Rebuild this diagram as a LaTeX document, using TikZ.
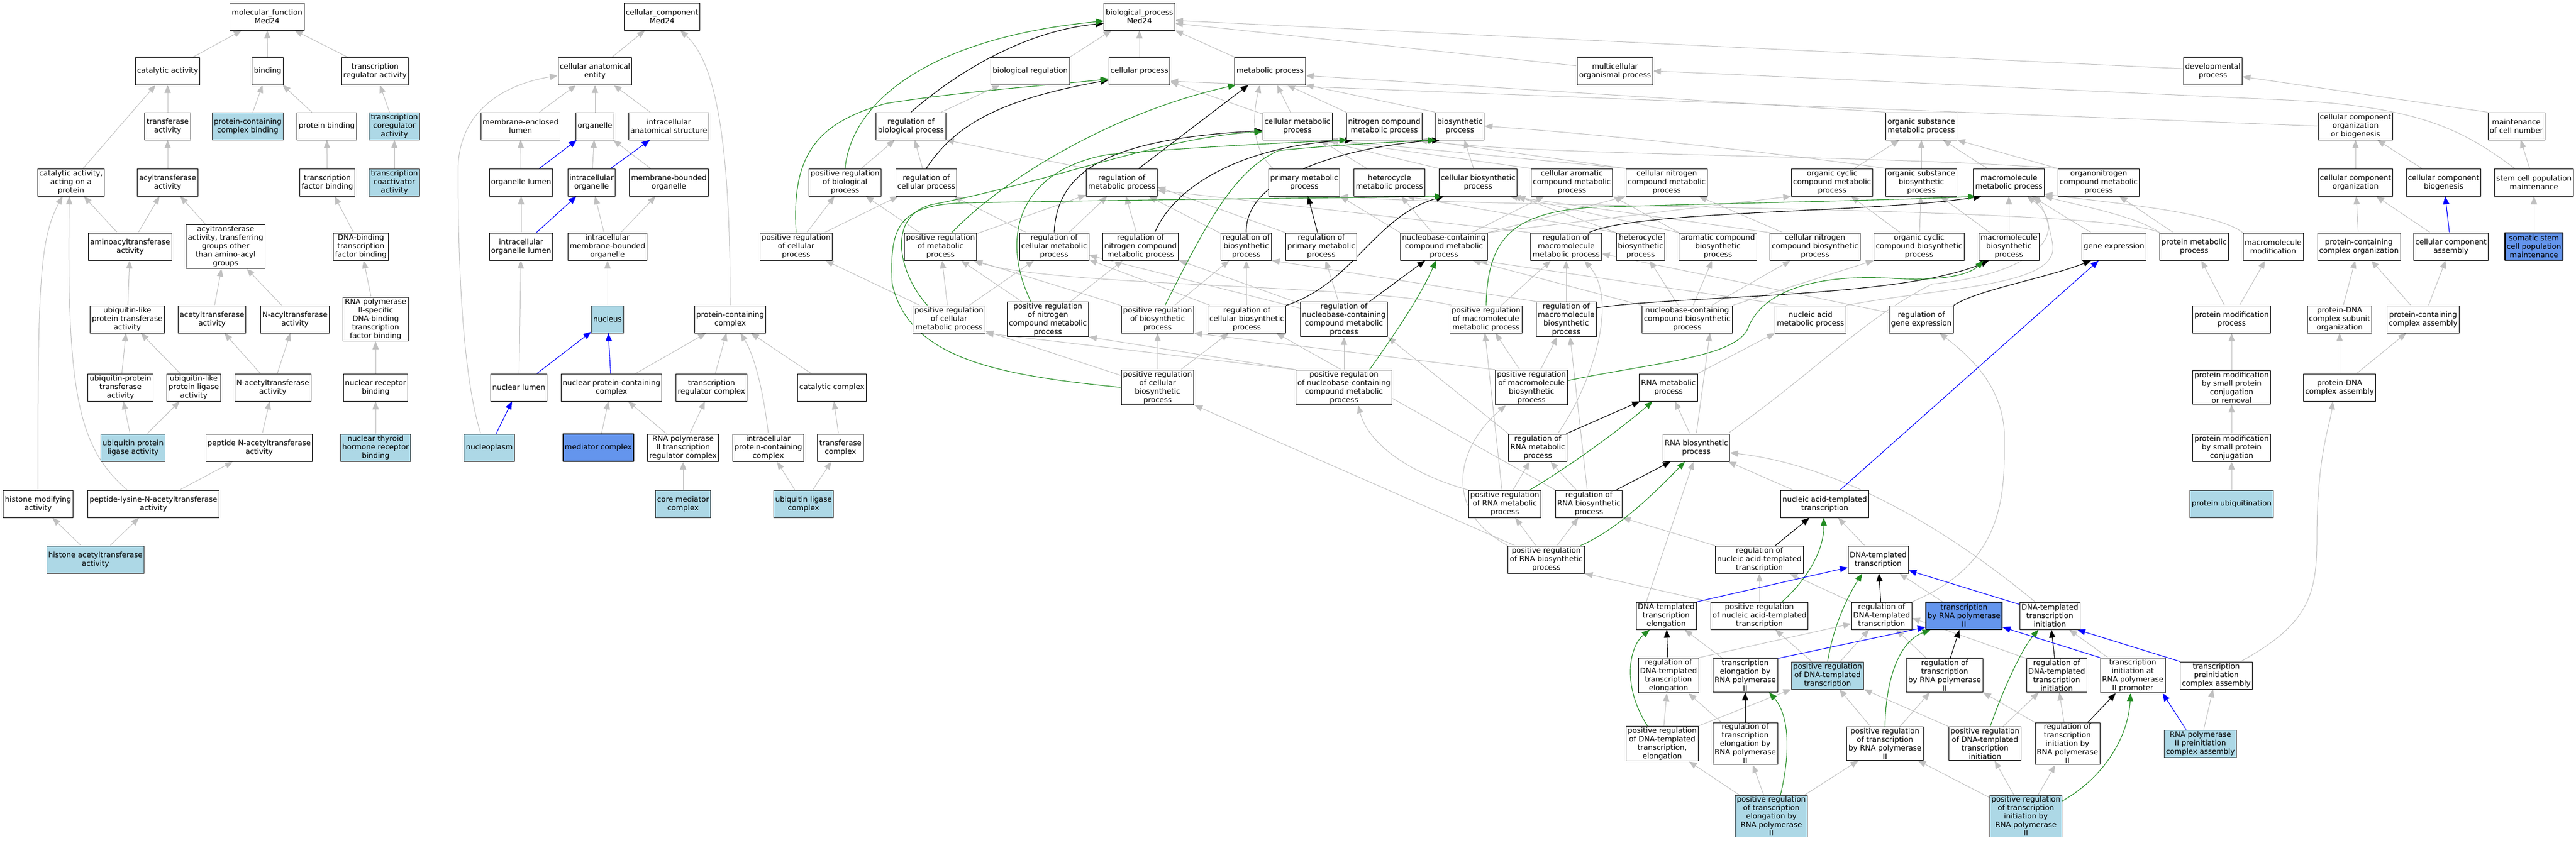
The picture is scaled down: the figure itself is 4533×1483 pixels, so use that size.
\documentclass[tikz,border=0pt]{standalone}
\usepackage{fontspec}
\setmainfont{DejaVu Sans}
\usepackage{tikz}
\usetikzlibrary{arrows.meta}
\usetikzlibrary{backgrounds}
\definecolor{cqcqcq}{rgb}{0.7529,0.7529,0.7529}
\definecolor{ssybss}{rgb}{0.1333,0.5451,0.1333}
\definecolor{qqqqff}{rgb}{0.,0.,1.}
\definecolor{addyew}{rgb}{0.6784,0.8471,0.902}
\definecolor{wuzxed}{rgb}{0.3922,0.5843,0.9294}
\definecolor{tttttt}{rgb}{0.2,0.2,0.2}
\tikzstyle{every node}=[font=\fontsize{13}{15}\selectfont]
\tikzstyle{termbox}=[draw=black,line width=1pt,fill=white,align=center,inner xsep=3pt,inner ysep=2pt,minimum height=48pt]
\tikzstyle{hitbox}=[termbox,draw=tttttt,fill=addyew]
\tikzstyle{seedbox}=[termbox,line width=1.5pt,fill=wuzxed]
\tikzstyle{isaline}=[->,color=cqcqcq,line width=1pt]
\tikzstyle{regline}=[->,color=black,line width=1.1pt]
\tikzstyle{posline}=[->,color=ssybss,line width=1.1pt]
\tikzstyle{partline}=[->,color=qqqqff,line width=1.1pt]
\begin{document}
\begin{tikzpicture}[line cap=round,line join=round,>={Triangle[length=14pt,width=11pt]},x=1pt,y=-1pt]
    \useasboundingbox (0,0) rectangle (4533,1483);
    \node[termbox] (mf) at (470,29) {molecular\_function\\Med24};
    \node[termbox] (catal) at (295,125) {catalytic activity};
    \node[termbox] (bind) at (471,125) {binding};
    \node[termbox] (tra) at (660,125) {transcription\\regulator activity};
    \node[termbox] (transf) at (295,222) {transferase\\activity};
    \node[hitbox] (pcb) at (436,222) {protein-containing\\complex binding};
    \node[termbox] (protb) at (575,222) {protein binding};
    \node[hitbox] (tcoreg) at (694,222) {transcription\\coregulator\\activity};
    \node[termbox] (catprot) at (125,321) {catalytic activity,\\acting on a\\protein};
    \node[termbox] (acyl) at (295,321) {acyltransferase\\activity};
    \node[termbox] (tfb) at (576,321) {transcription\\factor binding};
    \node[hitbox] (tcoact) at (694,321) {transcription\\coactivator\\activity};
    \node[termbox] (aminoacyl) at (229,434) {aminoacyltransferase\\activity};
    \node[termbox] (acylother) at (397,434) {acyltransferase\\activity, transferring\\groups other\\than amino-acyl\\groups};
    \node[termbox] (dnatfb) at (635,434) {DNA-binding\\transcription\\factor binding};
    \node[termbox] (ubltrans) at (224,562) {ubiquitin-like\\protein transferase\\activity};
    \node[termbox] (acetyl) at (373,562) {acetyltransferase\\activity};
    \node[termbox] (nacyl) at (519,562) {N-acyltransferase\\activity};
    \node[termbox] (rnaptfb) at (661,562) {RNA polymerase\\II-specific\\DNA-binding\\transcription\\factor binding};
    \node[termbox] (ubprottrans) at (212,682) {ubiquitin-protein\\transferase\\activity};
    \node[termbox] (ublig) at (341,682) {ubiquitin-like\\protein ligase\\activity};
    \node[termbox] (nacetyl) at (480,682) {N-acetyltransferase\\activity};
    \node[termbox] (nrb) at (661,682) {nuclear receptor\\binding};
    \node[hitbox] (ubplig) at (234,788) {ubiquitin protein\\ligase activity};
    \node[termbox] (pepnacetyl) at (456,788) {peptide N-acetyltransferase\\activity};
    \node[hitbox] (nthrb) at (661,788) {nuclear thyroid\\hormone receptor\\binding};
    \node[termbox] (histmod) at (67,887) {histone modifying\\activity};
    \node[termbox] (peplys) at (270,887) {peptide-lysine-N-acetyltransferase\\activity};
    \node[hitbox] (hat) at (168,985) {histone acetyltransferase\\activity};
    \node[termbox] (cc) at (1165,29) {cellular\_component\\Med24};
    \node[termbox] (cae) at (1047,125) {cellular anatomical\\entity};
    \node[termbox] (mel) at (916,222) {membrane-enclosed\\lumen};
    \node[termbox] (org) at (1047,222) {organelle};
    \node[termbox] (ias) at (1177,222) {intracellular\\anatomical structure};
    \node[termbox] (orglum) at (917,321) {organelle lumen};
    \node[termbox] (intorg) at (1041,321) {intracellular\\organelle};
    \node[termbox] (mbo) at (1177,321) {membrane-bounded\\organelle};
    \node[termbox] (iol) at (917,434) {intracellular\\organelle lumen};
    \node[termbox] (imbo) at (1069,434) {intracellular\\membrane-bounded\\organelle};
    \node[hitbox] (nucleus) at (1069,562) {nucleus};
    \node[termbox] (pcc) at (1285,562) {protein-containing\\complex};
    \node[termbox] (nuclum) at (913,682) {nuclear lumen};
    \node[termbox] (npcc) at (1076,682) {nuclear protein-containing\\complex};
    \node[termbox] (trc) at (1252,682) {transcription\\regulator complex};
    \node[termbox] (catcx) at (1464,682) {catalytic complex};
    \node[hitbox] (nucpl) at (861,788) {nucleoplasm};
    \node[seedbox] (medcx) at (1053,788) {mediator complex};
    \node[termbox] (rnaptrc) at (1202,788) {RNA polymerase\\II transcription\\regulator complex};
    \node[termbox] (ipcc) at (1352,788) {intracellular\\protein-containing\\complex};
    \node[termbox] (trfcx) at (1479,788) {transferase\\complex};
    \node[hitbox] (coremed) at (1202,887) {core mediator\\complex};
    \node[hitbox] (ubligcx) at (1414,887) {ubiquitin ligase\\complex};
    \node[termbox] (bp) at (2005,29) {biological\_process\\Med24};
    \node[termbox] (bioreg) at (1813,125) {biological regulation};
    \node[termbox] (cellp) at (2005,125) {cellular process};
    \node[termbox] (metp) at (2235,125) {metabolic process};
    \node[termbox] (multi) at (2842,125) {multicellular\\organismal process};
    \node[termbox] (devp) at (3894,125) {developmental\\process};
    \node[termbox] (rbp) at (1603,222) {regulation of\\biological process};
    \node[termbox] (cmp) at (2283,222) {cellular metabolic\\process};
    \node[termbox] (ncmp) at (2436,222) {nitrogen compound\\metabolic process};
    \node[termbox] (bsp) at (2569,222) {biosynthetic\\process};
    \node[termbox] (osmp) at (3381,222) {organic substance\\metabolic process};
    \node[termbox] (ccob) at (4145,222) {cellular component\\organization\\or biogenesis};
    \node[termbox] (mcn) at (4428,222) {maintenance\\of cell number};
    \node[termbox] (prbp) at (1487,321) {positive regulation\\of biological\\process};
    \node[termbox] (rcp) at (1630,321) {regulation of\\cellular process};
    \node[termbox] (rmp) at (1974,321) {regulation of\\metabolic process};
    \node[termbox] (pmp) at (2295,321) {primary metabolic\\process};
    \node[termbox] (hmp) at (2445,321) {heterocycle\\metabolic process};
    \node[termbox] (cbp) at (2601,321) {cellular biosynthetic\\process};
    \node[termbox] (camp) at (2766,321) {cellular aromatic\\compound metabolic\\process};
    \node[termbox] (cncmp) at (2933,321) {cellular nitrogen\\compound metabolic\\process};
    \node[termbox] (occmp) at (3224,321) {organic cyclic\\compound metabolic\\process};
    \node[termbox] (osbp) at (3381,321) {organic substance\\biosynthetic\\process};
    \node[termbox] (mmp) at (3535,321) {macromolecule\\metabolic process};
    \node[termbox] (oncmp) at (3693,321) {organonitrogen\\compound metabolic\\process};
    \node[termbox] (cco) at (4145,321) {cellular component\\organization};
    \node[termbox] (ccb) at (4300,321) {cellular component\\biogenesis};
    \node[termbox] (scpm) at (4459,321) {stem cell population\\maintenance};
    \node[termbox] (prcp) at (1401,434) {positive regulation\\of cellular\\process};
    \node[termbox] (prmp) at (1655,434) {positive regulation\\of metabolic\\process};
    \node[termbox] (rcmp) at (1855,434) {regulation of\\cellular metabolic\\process};
    \node[termbox] (rncmp) at (2007,434) {regulation of\\nitrogen compound\\metabolic process};
    \node[termbox] (rbsp) at (2193,434) {regulation of\\biosynthetic\\process};
    \node[termbox] (rpmp) at (2325,434) {regulation of\\primary metabolic\\process};
    \node[termbox] (nbmp) at (2541,434) {nucleobase-containing\\compound metabolic\\process};
    \node[termbox] (rmmp) at (2756,434) {regulation of\\macromolecule\\metabolic process};
    \node[termbox] (hbp) at (2887,434) {heterocycle\\biosynthetic\\process};
    \node[termbox] (acbp) at (3023,434) {aromatic compound\\biosynthetic\\process};
    \node[termbox] (cncbp) at (3194,434) {cellular nitrogen\\compound biosynthetic\\process};
    \node[termbox] (occbp) at (3377,434) {organic cyclic\\compound biosynthetic\\process};
    \node[termbox] (mbp) at (3535,434) {macromolecule\\biosynthetic\\process};
    \node[termbox] (gexp) at (3720,434) {gene expression};
    \node[termbox] (protmp) at (3861,434) {protein metabolic\\process};
    \node[termbox] (mmod) at (4000,434) {macromolecule\\modification};
    \node[termbox] (pcco) at (4151,434) {protein-containing\\complex organization};
    \node[termbox] (cca) at (4313,434) {cellular component\\assembly};
    \node[seedbox] (sscpm) at (4459,434) {somatic stem\\cell population\\maintenance};
    \node[termbox] (prcmp) at (1670,562) {positive regulation\\of cellular\\metabolic process};
    \node[termbox] (prncmp) at (1844,562) {positive regulation\\of nitrogen\\compound metabolic\\process};
    \node[termbox] (prbsp) at (2037,562) {positive regulation\\of biosynthetic\\process};
    \node[termbox] (rcbp) at (2194,562) {regulation of\\cellular biosynthetic\\process};
    \node[termbox] (rnbmp) at (2365,562) {regulation of\\nucleobase-containing\\compound metabolic\\process};
    \node[termbox] (prmmp) at (2615,562) {positive regulation\\of macromolecule\\metabolic process};
    \node[termbox] (rmbp) at (2756,562) {regulation of\\macromolecule\\biosynthetic\\process};
    \node[termbox] (nbbp) at (2969,562) {nucleobase-containing\\compound biosynthetic\\process};
    \node[termbox] (namp) at (3186,562) {nucleic acid\\metabolic process};
    \node[termbox] (rge) at (3381,562) {regulation of\\gene expression};
    \node[termbox] (pmod) at (3927,562) {protein modification\\process};
    \node[termbox] (pdnaso) at (4117,562) {protein-DNA\\complex subunit\\organization};
    \node[termbox] (pcca) at (4264,562) {protein-containing\\complex assembly};
    \node[termbox] (prcbp) at (2037,682) {positive regulation\\of cellular\\biosynthetic\\process};
    \node[termbox] (prnbmp) at (2365,682) {positive regulation\\of nucleobase-containing\\compound metabolic\\process};
    \node[termbox] (prmbp) at (2695,682) {positive regulation\\of macromolecule\\biosynthetic\\process};
    \node[termbox] (rnamp) at (2936,682) {RNA metabolic\\process};
    \node[termbox] (pmspcr) at (3927,682) {protein modification\\by small protein\\conjugation\\or removal};
    \node[termbox] (pdnaca) at (4117,682) {protein-DNA\\complex assembly};
    \node[termbox] (rrnamp) at (2706,788) {regulation of\\RNA metabolic\\process};
    \node[termbox] (rnabp) at (2985,788) {RNA biosynthetic\\process};
    \node[termbox] (pmspc) at (3927,788) {protein modification\\by small protein\\conjugation};
    \node[termbox] (prrnamp) at (2648,887) {positive regulation\\of RNA metabolic\\process};
    \node[termbox] (rrnabp) at (2796,887) {regulation of\\RNA biosynthetic\\process};
    \node[termbox] (natt) at (3211,887) {nucleic acid-templated\\transcription};
    \node[hitbox] (pubiq) at (3927,887) {protein ubiquitination};
    \node[termbox] (prrnabp) at (2721,985) {positive regulation\\of RNA biosynthetic\\process};
    \node[termbox] (rnatt) at (3096,985) {regulation of\\nucleic acid-templated\\transcription};
    \node[termbox] (dtt) at (3305,985) {DNA-templated\\transcription};
    \node[termbox] (dtte) at (2932,1084) {DNA-templated\\transcription\\elongation};
    \node[termbox] (prnatt) at (3096,1084) {positive regulation\\of nucleic acid-templated\\transcription};
    \node[termbox] (rdtt) at (3311,1084) {regulation of\\DNA-templated\\transcription};
    \node[seedbox] (trp2) at (3456,1084) {transcription\\by RNA polymerase\\II};
    \node[termbox] (dtti) at (3607,1084) {DNA-templated\\transcription\\initiation};
    \node[termbox] (rdtte) at (2936,1189) {regulation of\\DNA-templated\\transcription\\elongation};
    \node[termbox] (te2) at (3071,1189) {transcription\\elongation by\\RNA polymerase\\II};
    \node[hitbox] (prdtt) at (3216,1189) {positive regulation\\of DNA-templated\\transcription};
    \node[termbox] (rtrp2) at (3422,1189) {regulation of\\transcription\\by RNA polymerase\\II};
    \node[termbox] (rdtti) at (3619,1189) {regulation of\\DNA-templated\\transcription\\initiation};
    \node[termbox] (tiap) at (3753,1189) {transcription\\initiation at\\RNA polymerase\\II promoter};
    \node[termbox] (tpca) at (3900,1189) {transcription\\preinitiation\\complex assembly};
    \node[termbox] (prdtte) at (2925,1309) {positive regulation\\of DNA-templated\\transcription,\\elongation};
    \node[termbox] (rte2) at (3071,1309) {regulation of\\transcription\\elongation by\\RNA polymerase\\II};
    \node[termbox] (prtrp2) at (3317,1309) {positive regulation\\of transcription\\by RNA polymerase\\II};
    \node[termbox] (prdtti) at (3493,1309) {positive regulation\\of DNA-templated\\transcription\\initiation};
    \node[termbox] (rtip2) at (3638,1309) {regulation of\\transcription\\initiation by\\RNA polymerase\\II};
    \node[hitbox] (rppca) at (3872,1309) {RNA polymerase\\II preinitiation\\complex assembly};
    \node[hitbox] (prtep2) at (3117,1437) {positive regulation\\of transcription\\elongation by\\RNA polymerase\\II};
    \node[hitbox] (prtip2) at (3565,1437) {positive regulation\\of transcription\\initiation by\\RNA polymerase\\II};
    \begin{scope}[on background layer]
    \draw [isaline] (catal) -- (mf);
    \draw [isaline] (bind) -- (mf);
    \draw [isaline] (tra) -- (mf);
    \draw [isaline] (transf) -- (catal);
    \draw [isaline] (catprot) -- (catal);
    \draw [isaline] (pcb) -- (bind);
    \draw [isaline] (protb) -- (bind);
    \draw [isaline] (tcoreg) -- (tra);
    \draw [isaline] (acyl) -- (transf);
    \draw [isaline] (tfb) -- (protb);
    \draw [isaline] (tcoact) -- (tcoreg);
    \draw [isaline] (aminoacyl) -- (catprot);
    \draw [isaline] (aminoacyl) -- (acyl);
    \draw [isaline] (acylother) -- (acyl);
    \draw [isaline] (dnatfb) -- (tfb);
    \draw [isaline] (ubltrans) -- (aminoacyl);
    \draw [isaline] (acetyl) -- (acylother);
    \draw [isaline] (nacyl) -- (acylother);
    \draw [isaline] (rnaptfb) -- (dnatfb);
    \draw [isaline] (ubprottrans) -- (ubltrans);
    \draw [isaline] (ublig) -- (ubltrans);
    \draw [isaline] (nacetyl) -- (acetyl);
    \draw [isaline] (nacetyl) -- (nacyl);
    \draw [isaline] (nrb) -- (rnaptfb);
    \draw [isaline] (ubplig) -- (ubprottrans);
    \draw [isaline] (ubplig) -- (ublig);
    \draw [isaline] (pepnacetyl) -- (nacetyl);
    \draw [isaline] (nthrb) -- (nrb);
    \draw [isaline] (histmod.north) .. controls (66,500) and (70,420) .. ([xshift=-15pt]catprot.south);
    \draw [isaline] ([xshift=-46pt]peplys.north) .. controls (140,790) and (117,700) .. ([xshift=-3pt]catprot.south);
    \draw [isaline] (peplys) -- (pepnacetyl);
    \draw [isaline] (hat) -- (histmod);
    \draw [isaline] (hat) -- (peplys);
    \draw [isaline] (cae) -- (cc);
    \draw [isaline] (pcc.north) .. controls (1285,250) and (1260,110) .. ([xshift=32pt]cc.south);
    \draw [isaline] (mel) -- (cae);
    \draw [isaline] (org) -- (cae);
    \draw [isaline] (ias) -- (cae);
    \draw [isaline] (orglum) -- (mel);
    \draw [isaline] (intorg) -- (org);
    \draw [isaline] (mbo) -- (org);
    \draw [isaline] (iol) -- (orglum);
    \draw [isaline] (imbo) -- (intorg);
    \draw [isaline] (imbo) -- (mbo);
    \draw [isaline] (nucleus) -- (imbo);
    \draw [isaline] (nuclum) -- (iol);
    \draw [isaline] (npcc) -- (pcc);
    \draw [isaline] (trc) -- (pcc);
    \draw [isaline] (catcx) -- (pcc);
    \draw [isaline] (ipcc.north) .. controls (1345,700) and (1330,630) .. ([xshift=18pt]pcc.south);
    \draw [isaline] ([xshift=-15pt]nucpl.north) .. controls (810,650) and (806,420) .. (806,300) .. controls (806,200) and (880,150) .. ([yshift=-8pt]cae.west);
    \draw [isaline] (medcx) -- (npcc);
    \draw [isaline] (rnaptrc) -- (npcc);
    \draw [isaline] (rnaptrc) -- (trc);
    \draw [isaline] (trfcx) -- (catcx);
    \draw [isaline] (coremed) -- (rnaptrc);
    \draw [isaline] (ubligcx) -- (ipcc);
    \draw [isaline] (ubligcx) -- (trfcx);
    \draw [partline] (orglum) -- (org);
    \draw [partline] (intorg) -- (ias);
    \draw [partline] (iol) -- (intorg);
    \draw [partline] (nuclum) -- (nucleus);
    \draw [partline] (npcc) -- (nucleus);
    \draw [partline] (nucpl) -- (nuclum);
    \draw [isaline] (bioreg.north east) -- ([xshift=-49pt]bp.south);
    \draw [isaline] (cellp) -- (bp);
    \draw [isaline] (metp.north west) -- (bp.south east);
    \draw [isaline] ([yshift=9pt]multi.west) -- ([yshift=-12pt]bp.east);
    \draw [isaline] ([yshift=4pt]devp.west) -- ([yshift=-7pt]bp.east);
    \draw [isaline] (rbp) -- (bioreg);
    \draw [isaline] (cmp) -- (cellp);
    \draw [isaline] (cmp) -- (metp);
    \draw [isaline] (ncmp.north west) -- ([xshift=30pt]metp.south);
    \draw [isaline] (bsp.north west) -- (metp.south east);
    \draw [isaline] (osmp.north west) -- ([yshift=-8pt]metp.east);
    \draw [isaline] (ccob.west) -- ([yshift=-18pt]cellp.east);
    \draw [isaline] (mcn.north west) -- ([yshift=-10pt]devp.east);
    \draw [isaline] (prbp) -- (rbp);
    \draw [isaline] (rcp) -- (rbp);
    \draw [isaline] (rmp.north west) -- (rbp.south east);
    \draw [isaline] ([xshift=-55pt]pmp.north) .. controls (2200,260) and (2205,200) .. ([xshift=-18pt]metp.south);
    \draw [isaline] (hmp) -- (cmp);
    \draw [isaline] (cbp) -- (bsp);
    \draw [isaline] (cbp.north west) -- ([xshift=40pt]cmp.south);
    \draw [isaline] (camp.north west) -- ([xshift=52pt]cmp.south);
    \draw [isaline] (cncmp.north west) -- ([xshift=58pt]cmp.south);
    \draw [isaline] (cncmp.north west) -- (ncmp.south east);
    \draw [isaline] (occmp) -- (osmp);
    \draw [isaline] (osbp) -- (osmp);
    \draw [isaline] (osbp.north west) .. controls (3100,265) and (2800,235) .. (bsp.east);
    \draw [isaline] (mmp) -- (osmp);
    \draw [isaline] (oncmp.north west) -- (osmp.south east);
    \draw [isaline] (oncmp.north west) .. controls (3300,272) and (2700,275) .. ([xshift=-6pt]ncmp.south east);
    \draw [isaline] (cco) -- (ccob);
    \draw [isaline] (ccb) -- (ccob);
    \draw [isaline] (scpm) -- (mcn);
    \draw [isaline] ([xshift=-34pt]scpm.north) .. controls (4330,225) and (4250,185) .. (4000,175) .. controls (3500,152) and (3100,133) .. (multi.east);
    \draw [isaline] (prcp) -- (prbp);
    \draw [isaline] (prcp) -- (rcp);
    \draw [isaline] (prmp) -- (prbp);
    \draw [isaline] (prmp) -- (rmp);
    \draw [isaline] (rcmp) -- (rmp);
    \draw [isaline] (rcmp) -- (rcp);
    \draw [isaline] (rncmp) -- (rmp);
    \draw [isaline] (rbsp) -- (rmp);
    \draw [isaline] (rpmp.north west) -- ([yshift=-8pt]rmp.east);
    \draw [isaline] (nbmp) -- (hmp);
    \draw [isaline] (nbmp) -- (camp);
    \draw [isaline] (nbmp.north east) -- (cncmp.south west);
    \draw [isaline] (nbmp.north east) -- (occmp.south west);
    \draw [isaline] (nbmp.north west) -- (pmp.south east);
    \draw [isaline] (rmmp.north west) -- ([yshift=-14pt]rmp.east);
    \draw [isaline] (hbp.north west) -- ([xshift=30pt]hmp.south);
    \draw [isaline] (hbp.north west) -- (cbp.south east);
    \draw [isaline] (acbp.north west) -- ([xshift=-8pt]cbp.south east);
    \draw [isaline] (acbp.north west) -- (camp.south east);
    \draw [isaline] (cncbp) -- (cncmp);
    \draw [isaline] (cncbp.north west) -- ([xshift=-14pt]cbp.south east);
    \draw [isaline] (occbp) -- (occmp);
    \draw [isaline] (occbp) -- (osbp);
    \draw [isaline] (mbp) -- (mmp);
    \draw [isaline] (mbp) -- (osbp);
    \draw [isaline] (gexp) -- (mmp);
    \draw [isaline] (protmp.north west) .. controls (3760,380) and (3650,360) .. (mmp.south east);
    \draw [isaline] (protmp) -- (oncmp);
    \draw [isaline] (protmp.north west) .. controls (3700,362) and (2600,366) .. (pmp.south east);
    \draw [isaline] (mmod.north west) .. controls (3900,372) and (3700,356) .. ([yshift=4pt]mmp.south east);
    \draw [isaline] (pcco) -- (cco);
    \draw [isaline] (cca) -- (cco);
    \draw [isaline] (sscpm) -- (scpm);
    \draw [isaline] (prcmp) -- (prcp);
    \draw [isaline] (prcmp) -- (prmp);
    \draw [isaline] (prcmp) -- (rcmp);
    \draw [isaline] (prncmp) -- (prmp);
    \draw [isaline] (prncmp) -- (rncmp);
    \draw [isaline] ([xshift=-65pt]prbsp.north) -- ([xshift=60pt]prmp.south);
    \draw [isaline] (prbsp) -- (rbsp);
    \draw [isaline] (rcbp) -- (rbsp);
    \draw [isaline] (rcbp) -- (rcmp);
    \draw [isaline] (rnbmp) -- (rcmp);
    \draw [isaline] (rnbmp) -- (rncmp);
    \draw [isaline] (rnbmp) -- (rpmp);
    \draw [isaline] ([xshift=-60pt]prmmp.north) .. controls (2400,500) and (1850,505) .. ([xshift=58pt]prmp.south);
    \draw [isaline] (prmmp) -- (rmmp);
    \draw [isaline] (rmbp) -- (rmmp);
    \draw [isaline] (rmbp.north west) -- (rbsp.south east);
    \draw [isaline] (nbbp.north west) -- ([xshift=50pt]nbmp.south);
    \draw [isaline] (nbbp) -- (hbp);
    \draw [isaline] (nbbp) -- (acbp);
    \draw [isaline] (nbbp) -- (cncbp);
    \draw [isaline] (nbbp.north east) -- (occbp.south west);
    \draw [isaline] ([xshift=-40pt]namp.north) -- ([xshift=62pt]nbmp.south);
    \draw [isaline] (namp.north east) .. controls (3420,505) and (3625,505) .. (3612,430) .. controls (3605,390) and (3595,365) .. ([xshift=45pt]mmp.south);
    \draw [isaline] (rge) -- (rmmp);
    \draw [isaline] (pmod) -- (protmp);
    \draw [isaline] (pmod) -- (mmod);
    \draw [isaline] (pdnaso) -- (pcco);
    \draw [isaline] (pcca) -- (pcco);
    \draw [isaline] (pcca) -- (cca);
    \draw [isaline] (prcbp) -- (prbsp);
    \draw [isaline] (prcbp) -- (rcbp);
    \draw [isaline] (prcbp) -- (prcmp);
    \draw [isaline] (prnbmp) -- (rnbmp);
    \draw [isaline] (prnbmp.north west) -- (prcmp.south east);
    \draw [isaline] (prnbmp.north west) -- (prncmp.south east);
    \draw [isaline] (prmbp) -- (prmmp);
    \draw [isaline] (prmbp) -- (rmbp);
    \draw [isaline] (prmbp.north west) -- (prbsp.south east);
    \draw [isaline] (rnamp.north east) -- (namp.south west);
    \draw [isaline] (pmspcr) -- (pmod);
    \draw [isaline] (pdnaca) -- (pdnaso);
    \draw [isaline] (pdnaca) -- (pcca);
    \draw [isaline] (rrnamp.north west) -- (rnbmp.south east);
    \draw [isaline] ([xshift=35pt]rrnamp.north) .. controls (2800,680) and (2850,530) .. ([xshift=32pt]rmmp.south);
    \draw [isaline] (rnabp) -- (rnamp);
    \draw [isaline] (rnabp.north) -- ([xshift=40pt]nbbp.south);
    \draw [isaline] ([xshift=55pt]rnabp.north) .. controls (3200,650) and (3280,560) .. (3400,500) .. controls (3600,480) and (3640,400) .. ([xshift=32pt]mmp.south);
    \draw [isaline] (pmspc) -- (pmspcr);
    \draw [isaline] (prrnamp) -- (rrnamp);
    \draw [isaline] ([xshift=-64pt]prrnamp.north) .. controls (2500,840) and (2410,790) .. ([xshift=25pt]prnbmp.south);
    \draw [isaline] ([xshift=-5pt]prrnamp.north) -- ([xshift=-2pt]prmmp.south);
    \draw [isaline] (rrnabp) -- (rrnamp);
    \draw [isaline] (rrnabp.north west) -- ([xshift=52pt]rcbp.south);
    \draw [isaline] ([xshift=-3pt]rrnabp.north) -- ([xshift=7pt]rmbp.south);
    \draw [isaline] (natt) -- (rnabp);
    \draw [isaline] (pubiq) -- (pmspc);
    \draw [isaline] (prrnabp) -- (prrnamp);
    \draw [isaline] (prrnabp) -- (rrnabp);
    \draw [isaline] ([xshift=-55pt]prrnabp.north) -- ([xshift=65pt]prcbp.south);
    \draw [isaline] (prrnabp.north west) .. controls (2540,900) and (2560,790) .. ([xshift=-45pt]prmbp.south);
    \draw [isaline] (rnatt.north west) -- (rrnabp.south east);
    \draw [isaline] (dtt) -- (natt);
    \draw [isaline] ([xshift=-35pt]dtte.north) -- ([xshift=-5pt]rnabp.south);
    \draw [isaline] (prnatt) -- (rnatt);
    \draw [isaline] (prnatt.north west) -- (prrnabp.south east);
    \draw [isaline] (rdtt) -- (rnatt);
    \draw [isaline] (rdtt.north east) .. controls (3530,990) and (3528,870) .. (3527,760) .. controls (3522,680) and (3470,630) .. ([xshift=32pt]rge.south);
    \draw [isaline] (trp2) -- (dtt);
    \draw [isaline] ([xshift=-26pt]dtti.north) .. controls (3450,950) and (3250,820) .. ([yshift=-9pt]rnabp.east);
    \draw [isaline] (rdtte.north east) -- ([yshift=-14pt]rdtt.west);
    \draw [isaline] (te2) -- (dtte);
    \draw [isaline] (prdtt) -- (rdtt);
    \draw [isaline] (prdtt) -- (prnatt);
    \draw [isaline] (rtrp2) -- (rdtt);
    \draw [isaline] (rdtti.north west) -- ([yshift=-4pt]rdtt.east);
    \draw [isaline] (tiap) -- (dtti);
    \draw [isaline] ([xshift=43pt]tpca.north) .. controls (4060,1100) and (4077,1050) .. (4077,950) .. controls (4077,800) and (4100,750) .. ([xshift=-12pt]pdnaca.south);
    \draw [isaline] (prdtte) -- (rdtte);
    \draw [isaline] (prdtte.north east) -- (prdtt.south west);
    \draw [isaline] (rte2) -- (rdtte);
    \draw [isaline] (prtrp2) -- (rtrp2);
    \draw [isaline] (prtrp2) -- (prdtt);
    \draw [isaline] (prdtti) -- (rdtti);
    \draw [isaline] (prdtti.north west) -- (prdtt.south east);
    \draw [isaline] (rtip2) -- (rdtti);
    \draw [isaline] (rtip2.north west) -- (rtrp2.south east);
    \draw [isaline] (rppca) -- (tpca);
    \draw [isaline] (prtep2) -- (prdtte);
    \draw [isaline] (prtep2) -- (rte2);
    \draw [isaline] (prtep2) -- (prtrp2);
    \draw [isaline] (prtip2) -- (prtrp2);
    \draw [isaline] (prtip2) -- (prdtti);
    \draw [isaline] (prtip2) -- (rtip2);
    \draw [regline] (rbp.north) .. controls (1680,130) and (1800,55) .. ([yshift=-12pt]bp.west);
    \draw [regline] (rcp.north) .. controls (1680,220) and (1760,175) .. ([yshift=-16pt]cellp.west);
    \draw [regline] ([xshift=30pt]rmp.north) -- ([xshift=-38pt]metp.south);
    \draw [regline] (rcmp.north) .. controls (1860,300) and (1950,245) .. ([yshift=-8pt]cmp.west);
    \draw [regline] ([xshift=25pt]rncmp.north) .. controls (2070,320) and (2200,255) .. ([xshift=-55pt]ncmp.south);
    \draw [regline] (rbsp.north) .. controls (2190,300) and (2400,255) .. ([xshift=-35pt]bsp.south);
    \draw [regline] (rpmp) -- (pmp);
    \draw [regline] ([xshift=45pt]rnbmp.north) -- ([xshift=-33pt]nbmp.south);
    \draw [regline] ([xshift=40pt]rmmp.north) .. controls (2880,370) and (3300,375) .. ([xshift=-48pt]mmp.south);
    \draw [regline] (rcbp.north east) .. controls (2380,500) and (2420,380) .. ([xshift=-60pt]cbp.south);
    \draw [regline] ([yshift=20pt]rmbp.east) .. controls (2950,520) and (3350,525) .. ([xshift=-35pt]mbp.south);
    \draw [regline] ([xshift=50pt]rrnamp.north) -- ([xshift=-50pt]rnamp.south);
    \draw [regline] ([xshift=48pt]rrnabp.north) -- ([xshift=-45pt]rnabp.south);
    \draw [regline] ([xshift=28pt]rnatt.north) -- ([xshift=-27pt]natt.south);
    \draw [regline] (rge.north east) .. controls (3480,510) and (3600,490) .. ([xshift=-40pt]gexp.south);
    \draw [regline] (rdtte) -- (dtte);
    \draw [regline] (rdtt) -- (dtt);
    \draw [regline] (rtrp2) -- (trp2);
    \draw [regline] (rdtti) -- (dtti);
    \draw [regline] (rte2) -- (te2);
    \draw [regline] (rtip2) -- (tiap);
    \draw [posline] (prbp.north) .. controls (1500,170) and (1650,65) .. ([yshift=-8pt]bp.west);
    \draw [posline] (prcp.north) .. controls (1392,270) and (1440,215) .. (1560,182) .. controls (1700,160) and (1850,150) .. ([yshift=-14pt]cellp.west);
    \draw [posline] ([xshift=20pt]prmp.north) .. controls (1760,320) and (1950,200) .. ([xshift=-60pt]metp.south);
    \draw [posline] ([xshift=-38pt]prcmp.north) .. controls (1580,480) and (1560,380) .. (1640,360) .. controls (1850,320) and (2050,240) .. ([yshift=-10pt]cmp.west);
    \draw [posline] ([xshift=-30pt]prncmp.north) .. controls (1760,420) and (1790,300) .. (1950,272) .. controls (2150,255) and (2300,250) .. ([xshift=-65pt]ncmp.south);
    \draw [posline] ([xshift=13pt]prbsp.north) .. controls (2120,400) and (2170,300) .. (2250,265) .. controls (2350,255) and (2450,250) .. ([xshift=-42pt]bsp.south);
    \draw [posline] (prcbp.west) .. controls (1750,660) and (1600,630) .. (1570,500) .. controls (1565,400) and (1580,360) .. (1700,357) .. controls (2100,350) and (2400,348) .. ([xshift=-62pt]cbp.south);
    \draw [posline] (prmmp.north) .. controls (2618,420) and (2660,375) .. (2800,365) .. controls (3100,356) and (3350,352) .. ([xshift=-58pt]mmp.south);
    \draw [posline] ([xshift=45pt]prnbmp.north) .. controls (2460,580) and (2500,520) .. ([xshift=-14pt]nbmp.south);
    \draw [posline] ([yshift=12pt]prmbp.east) .. controls (2900,640) and (3050,630) .. (3075,580) .. controls (3100,510) and (3200,482) .. (3330,490) .. controls (3430,496) and (3470,480) .. ([xshift=-45pt]mbp.south);
    \draw [posline] ([xshift=44pt]prrnamp.north) .. controls (2780,810) and (2870,740) .. ([xshift=-28pt]rnamp.south);
    \draw [posline] ([xshift=60pt]prrnabp.north) .. controls (2840,935) and (2900,880) .. ([xshift=-20pt]rnabp.south);
    \draw [posline] ([xshift=40pt]prnatt.north) .. controls (3190,1010) and (3210,960) .. ([xshift=-2pt]natt.south);
    \draw [posline] (prdtt.north) .. controls (3225,1110) and (3245,1060) .. ([xshift=-28pt]dtt.south);
    \draw [posline] (prtrp2.north) .. controls (3318,1200) and (3340,1130) .. ([xshift=-59pt]trp2.south);
    \draw [posline] ([xshift=9pt]prdtti.north) .. controls (3530,1200) and (3560,1140) .. ([xshift=-20pt]dtti.south);
    \draw [posline] ([xshift=-26pt]prdtte.north) .. controls (2855,1210) and (2865,1140) .. ([xshift=-29pt]dtte.south);
    \draw [posline] ([xshift=16pt]prtep2.north) .. controls (3150,1330) and (3150,1260) .. ([xshift=42pt]te2.south);
    \draw [posline] ([yshift=27pt]prtip2.east) .. controls (3700,1370) and (3745,1300) .. ([xshift=-4pt]tiap.south);
    \draw [partline] (cca) -- (ccb);
    \draw [partline] ([xshift=27pt]natt.north) -- ([xshift=-27pt]gexp.south);
    \draw [partline] (dtte.north east) -- ([yshift=-14pt]dtt.west);
    \draw [partline] (te2.north east) -- ([yshift=-20pt]trp2.west);
    \draw [partline] (tiap.north west) -- ([yshift=-20pt]trp2.east);
    \draw [partline] ([yshift=20pt]dtti.west) -- ([yshift=-19pt]dtt.east);
    \draw [partline] (tpca.north west) -- ([xshift=-5pt]dtti.south east);
    \draw [partline] ([xshift=-25pt]rppca.north) -- ([xshift=-5pt]tiap.south east);
    \end{scope}
\end{tikzpicture}
\end{document}
